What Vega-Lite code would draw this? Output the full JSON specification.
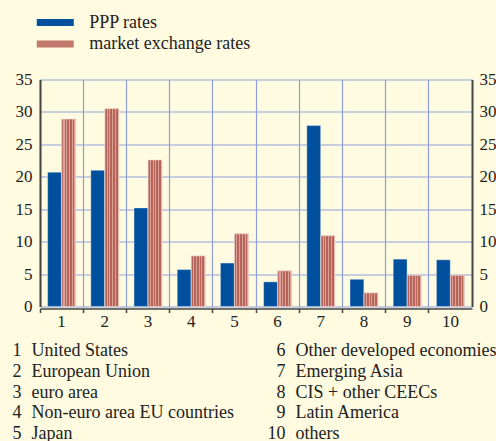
{
  "$schema": "https://vega.github.io/schema/vega-lite/v6.json",
  "background": "#FEFBE0",
  "padding": {"left": 12, "top": 12.5, "right": 0, "bottom": 0},
  "config": {
    "font": "Liberation Serif",
    "view": {"stroke": null},
    "concat": {"spacing": 11}
  },
  "datasets": {
    "bars": [
      {"cat": 1, "series": "PPP rates", "value": 20.7},
      {"cat": 1, "series": "market exchange rates", "value": 28.9},
      {"cat": 2, "series": "PPP rates", "value": 21.0},
      {"cat": 2, "series": "market exchange rates", "value": 30.5},
      {"cat": 3, "series": "PPP rates", "value": 15.2},
      {"cat": 3, "series": "market exchange rates", "value": 22.6},
      {"cat": 4, "series": "PPP rates", "value": 5.7},
      {"cat": 4, "series": "market exchange rates", "value": 7.8},
      {"cat": 5, "series": "PPP rates", "value": 6.7},
      {"cat": 5, "series": "market exchange rates", "value": 11.2},
      {"cat": 6, "series": "PPP rates", "value": 3.8},
      {"cat": 6, "series": "market exchange rates", "value": 5.5},
      {"cat": 7, "series": "PPP rates", "value": 27.9},
      {"cat": 7, "series": "market exchange rates", "value": 10.9},
      {"cat": 8, "series": "PPP rates", "value": 4.2},
      {"cat": 8, "series": "market exchange rates", "value": 2.1},
      {"cat": 9, "series": "PPP rates", "value": 7.3},
      {"cat": 9, "series": "market exchange rates", "value": 4.8},
      {"cat": 10, "series": "PPP rates", "value": 7.2},
      {"cat": 10, "series": "market exchange rates", "value": 4.8}
    ],
    "names": [
      {"id": "1", "name": "United States", "col": 0, "row": 1},
      {"id": "2", "name": "European Union", "col": 0, "row": 2},
      {"id": "3", "name": "euro area", "col": 0, "row": 3},
      {"id": "4", "name": "Non-euro area EU countries", "col": 0, "row": 4},
      {"id": "5", "name": "Japan", "col": 0, "row": 5},
      {"id": "6", "name": "Other developed economies", "col": 1, "row": 1},
      {"id": "7", "name": "Emerging Asia", "col": 1, "row": 2},
      {"id": "8", "name": "CIS + other CEECs", "col": 1, "row": 3},
      {"id": "9", "name": "Latin America", "col": 1, "row": 4},
      {"id": "10", "name": "others", "col": 1, "row": 5}
    ]
  },
  "vconcat": [
    {
      "width": 432,
      "height": 227,
      "data": {"name": "bars"},
      "encoding": {
        "x": {
          "field": "cat",
          "type": "ordinal",
          "scale": {"paddingInner": 0, "paddingOuter": 0},
          "axis": {
            "title": null,
            "labelAngle": 0,
            "labelFontSize": 17,
            "labelColor": "#222222",
            "labelPadding": 1,
            "bandPosition": 0,
            "labelAlign": "center",
            "domainColor": "#444444",
            "domainWidth": 1.5,
            "tickColor": "#444444",
            "tickWidth": 1.5,
            "tickSize": 4,
            "offset": 2,
            "grid": true,
            "gridColor": "#8E9FDC",
            "gridWidth": 1.2
          }
        },
        "xOffset": {
          "field": "series",
          "type": "nominal",
          "sort": ["PPP rates", "market exchange rates"],
          "scale": {"paddingInner": 0.02, "paddingOuter": 0.54}
        }
      },
      "layer": [
        {
          "mark": {"type": "bar", "stroke": "#ffffff", "strokeWidth": 0.6, "strokeOpacity": 0.6},
          "encoding": {
            "y": {
              "field": "value",
              "type": "quantitative",
              "scale": {"domain": [0, 35]},
              "axis": {
                "title": null,
                "values": [0, 5, 10, 15, 20, 25, 30, 35],
                "ticks": false,
                "labelPadding": 8,
                "labelFontSize": 17,
                "labelColor": "#222222",
                "domainColor": "#444444",
                "domainWidth": 2,
                "grid": true,
                "gridColor": "#8E9FDC",
                "gridWidth": 1.2
              }
            },
            "color": {
              "field": "series",
              "type": "nominal",
              "scale": {"domain": ["PPP rates", "market exchange rates"], "range": ["#00509E", "#C27A6E"]},
              "legend": {
                "title": null,
                "orient": "none",
                "legendX": 5.75,
                "legendY": -66.5,
                "padding": 0,
                "symbolType": "M-2,-0.38H2V0.38H-2Z",
                "symbolSize": 342.25,
                "symbolStrokeWidth": 0,
                "symbolOpacity": 1,
                "labelFontSize": 18,
                "labelLimit": 400,
                "labelColor": "#222222",
                "labelOffset": 24.5,
                "rowPadding": 2.5,
                "encode": {
                  "symbols": {
                    "update": {
                      "fill": [
                        {
                          "test": "datum.value === 'market exchange rates'",
                          "value": {
                            "gradient": "linear", "x1": 0, "y1": 0, "x2": 1, "y2": 0,
                            "stops": [
                              {"offset": 0, "color": "#B5645A"}, {"offset": 0.06, "color": "#B5645A"},
                              {"offset": 0.06, "color": "#DDA096"}, {"offset": 0.1, "color": "#DDA096"},
                              {"offset": 0.1, "color": "#B5645A"}, {"offset": 0.16, "color": "#B5645A"},
                              {"offset": 0.16, "color": "#DDA096"}, {"offset": 0.2, "color": "#DDA096"},
                              {"offset": 0.2, "color": "#B5645A"}, {"offset": 0.26, "color": "#B5645A"},
                              {"offset": 0.26, "color": "#DDA096"}, {"offset": 0.3, "color": "#DDA096"},
                              {"offset": 0.3, "color": "#B5645A"}, {"offset": 0.36, "color": "#B5645A"},
                              {"offset": 0.36, "color": "#DDA096"}, {"offset": 0.4, "color": "#DDA096"},
                              {"offset": 0.4, "color": "#B5645A"}, {"offset": 0.46, "color": "#B5645A"},
                              {"offset": 0.46, "color": "#DDA096"}, {"offset": 0.5, "color": "#DDA096"},
                              {"offset": 0.5, "color": "#B5645A"}, {"offset": 0.56, "color": "#B5645A"},
                              {"offset": 0.56, "color": "#DDA096"}, {"offset": 0.6, "color": "#DDA096"},
                              {"offset": 0.6, "color": "#B5645A"}, {"offset": 0.66, "color": "#B5645A"},
                              {"offset": 0.66, "color": "#DDA096"}, {"offset": 0.7, "color": "#DDA096"},
                              {"offset": 0.7, "color": "#B5645A"}, {"offset": 0.76, "color": "#B5645A"},
                              {"offset": 0.76, "color": "#DDA096"}, {"offset": 0.8, "color": "#DDA096"},
                              {"offset": 0.8, "color": "#B5645A"}, {"offset": 0.86, "color": "#B5645A"},
                              {"offset": 0.86, "color": "#DDA096"}, {"offset": 0.9, "color": "#DDA096"},
                              {"offset": 0.9, "color": "#B5645A"}, {"offset": 0.96, "color": "#B5645A"},
                              {"offset": 0.96, "color": "#DDA096"}, {"offset": 1, "color": "#DDA096"}
                            ]
                          }
                        },
                        {"value": "#00509E"}
                      ]
                    }
                  }
                }
              }
            }
          }
        },
        {
          "transform": [{"filter": "datum.series === 'market exchange rates'"}],
          "mark": {
            "type": "bar",
            "stroke": "#F3D6CF",
            "strokeWidth": 0.6,
            "color": {
              "gradient": "linear", "x1": 0, "y1": 0, "x2": 1, "y2": 0,
              "stops": [
                {"offset": 0, "color": "#B5645A"}, {"offset": 0.12, "color": "#B5645A"},
                {"offset": 0.12, "color": "#DDA096"}, {"offset": 0.2, "color": "#DDA096"},
                {"offset": 0.2, "color": "#B5645A"}, {"offset": 0.32, "color": "#B5645A"},
                {"offset": 0.32, "color": "#DDA096"}, {"offset": 0.4, "color": "#DDA096"},
                {"offset": 0.4, "color": "#B5645A"}, {"offset": 0.52, "color": "#B5645A"},
                {"offset": 0.52, "color": "#DDA096"}, {"offset": 0.6, "color": "#DDA096"},
                {"offset": 0.6, "color": "#B5645A"}, {"offset": 0.72, "color": "#B5645A"},
                {"offset": 0.72, "color": "#DDA096"}, {"offset": 0.8, "color": "#DDA096"},
                {"offset": 0.8, "color": "#B5645A"}, {"offset": 0.92, "color": "#B5645A"},
                {"offset": 0.92, "color": "#DDA096"}, {"offset": 1, "color": "#DDA096"}
              ]
            }
          },
          "encoding": {
            "y": {
              "field": "value",
              "type": "quantitative",
              "axis": {
                "title": null,
                "orient": "right",
                "values": [0, 5, 10, 15, 20, 25, 30, 35],
                "ticks": false,
                "labelPadding": 7,
                "labelFontSize": 17,
                "labelColor": "#222222",
                "domainColor": "#444444",
                "domainWidth": 2,
                "grid": false
              }
            }
          }
        }
      ],
      "resolve": {"axis": {"y": "independent"}}
    },
    {
      "width": 264,
      "height": 104,
      "data": {"name": "names"},
      "encoding": {
        "x": {"field": "col", "type": "quantitative", "scale": {"domain": [0, 1]}, "axis": null},
        "y": {"field": "row", "type": "ordinal", "scale": {"paddingInner": 0, "paddingOuter": 0}, "axis": null}
      },
      "layer": [
        {
          "mark": {"type": "text", "align": "right", "baseline": "middle", "dx": -18.5, "fontSize": 18, "color": "#222222"},
          "encoding": {"text": {"field": "id"}}
        },
        {
          "mark": {"type": "text", "align": "left", "baseline": "middle", "dx": -8.5, "fontSize": 18, "color": "#222222"},
          "encoding": {"text": {"field": "name"}}
        }
      ]
    }
  ]
}
